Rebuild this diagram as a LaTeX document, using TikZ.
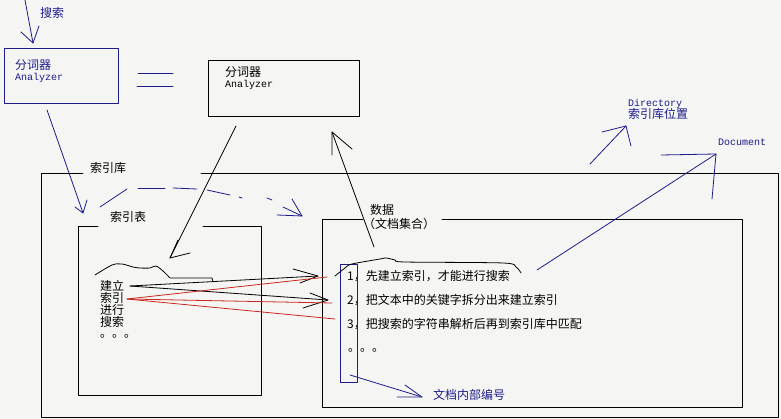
\documentclass[tikz,border=0pt]{standalone}
\usepackage{fontspec}
\setmainfont{Noto Sans CJK SC}
\setmonofont{Liberation Mono}
\definecolor{bgc}{RGB}{245,245,243}
\definecolor{navy}{RGB}{28,28,140}
\definecolor{redl}{RGB}{200,40,30}
\begin{document}
\begin{tikzpicture}[x=1pt,y=-1pt,
  pen/.style={line width=0.8pt,line cap=round,line join=round},
  bl/.style={pen,draw=navy},
  bk/.style={pen,draw=black},
  rd/.style={pen,draw=redl},
  lbl/.style={inner sep=0pt,anchor=west,font=\fontsize{12}{12}\selectfont},
  eng/.style={inner sep=0pt,anchor=west,font=\fontsize{10}{10}\ttfamily},
  boxn/.style={pen,inner sep=0pt,minimum width=#1}]
\fill[bgc] (0,0) rectangle (781,419);
\useasboundingbox (0,0) rectangle (781,419);

% ---------- labels ----------
\node[lbl,text=navy] (search) at (40,13) {搜索};
\node[lbl,text=navy] (fc1) at (15,65) {分词器};
\node[eng,text=navy] (an1t) at (15,78) {Analyzer};
\node[lbl] (fc2) at (225,72.5) {分词器};
\node[eng] (an2t) at (225,85) {Analyzer};
\node[lbl] (liblbl) at (90,168) {索引库};
\node[lbl] (tbllbl) at (110,217) {索引表};
\node[lbl] (datalbl) at (370,210) {数据};
\node[lbl] (doclbl) at (363,223.5) {（文档集合）};
\node[eng,text=navy] (dirlbl) at (628,103.5) {Directory};
\node[lbl,text=navy] (dirpos) at (628,114) {索引库位置};
\node[eng,text=navy] (doctxt) at (718,142.5) {Document};
\node[lbl,align=left] (steps) at (100,304) {建立\\索引\\进行\\搜索};
\node[lbl] (dots1) at (100,336) {。。。};
\node[lbl] (l1) at (347,276) {1，先建立索引，才能进行搜索};
\node[lbl] (l2) at (347,300.5) {2，把文本中的关键字拆分出来建立索引};
\node[lbl] (l3) at (347,324) {3，把搜索的字符串解析后再到索引库中匹配};
\node[lbl] (dots2) at (348,350) {。。。};
\node[lbl,text=navy] (idlbl) at (433,394.5) {文档内部编号};

% ---------- boxes ----------
\draw[bl] (4,48) rectangle (118,103);
\draw[bk] (208,60) rectangle (359,116);
\draw[bk] (83,173) -| (41,417) -| (778,173) -- (201,173);
\draw[bk] (98,226) -| (78,395) -| (261,226) -- (203,226);
\draw[bk] (363,219) -| (322,407) -| (742,219) -- (442,219);
\draw[bl] (340,264) rectangle (357,382);

% ---------- "=" sign ----------
\draw[bl] (138,73) -- (173,73);
\draw[bl] (137,86) -- (173,86);

% ---------- arrows ----------
% search -> analyzer 1
\coordinate (s0) at (25,0); \coordinate (s1) at (33,43);
\draw[bl] (s0) -- (s1);
\draw[bl] (21,32) -- (s1) -- (39,26);
% analyzer 1 -> index table
\coordinate (a0) at (47,110); \coordinate (a1) at (83,213);
\draw[bl] (a0) -- (a1);
\draw[bl] (75,207) -- (a1) -- (87,200);
% dash-dot arrow index table -> data
\coordinate (d1) at (302,216);
\draw[bl] (100,207) -- (127,189);
\draw[bl] (138,188) -- (165,188);
\draw[bl] (173,188) -- (197,189);
\draw[bl] (207,190) -- (230,195);
\draw[bl] (239,197) -- (242,198);
\draw[bl] (267,198) -- (272,200);
\draw[bl] (283,207) -- (d1);
\draw[bl] (277,215) -- (d1) -- (292,199);
% analyzer 2 -> index table
\coordinate (b0) at (236,126); \coordinate (b1) at (170,258);
\draw[bk] (b0) -- (b1);
\draw[bk] (178,240) -- (b1) -- (190,253);
% data -> analyzer 2
\coordinate (c0) at (374,247); \coordinate (c1) at (332,132);
\draw[bk] (c0) -- (c1);
\draw[bk] (332,155) -- (c1) -- (352,149);
% directory
\coordinate (r0) at (590,164); \coordinate (r1) at (626,126);
\draw[bl] (r0) -- (r1);
\draw[bl] (602,132) -- (r1) -- (631,146);
% document
\coordinate (m0) at (537,270); \coordinate (m1) at (716,154);
\draw[bl] (m0) -- (m1);
\draw[bl] (661,155) -- (m1) -- (712,199);
% internal doc id
\coordinate (i0) at (350,375); \coordinate (i1) at (422,397);
\draw[bl] (i0) -- (i1);
\draw[bl] (405,385) -- (i1) -- (397,397);

% ---------- wavy braces ----------
\draw[bk] plot[smooth,tension=0.5] coordinates {(95,275) (112,265) (122,264) (133,267) (140,268) (150,268) (156,266) (163,271) (170,278)} -- (212,278) -- (213,282);
\draw[bk] plot[smooth,tension=0.5] coordinates {(335,276) (345,268) (352,264) (380,259) (386,258) (395,260) (405,262) (503,263) (516,267) (521,273)};

% ---------- links from steps to list ----------
\coordinate (k0) at (130,286);
\coordinate (k1) at (318,276);
\coordinate (k2) at (328,300);
\draw[bk] (k0) -- (k1);
\draw[bk] (293,269) -- (k1) -- (300,283);
\draw[bk] (k0) -- (k2);
\draw[bk] (310,293) -- (k2) -- (303,308);
\coordinate (q0) at (127,299);
\draw[rd] (q0) -- (327,277);
\draw[rd] (q0) -- (332,303);
\draw[rd] (q0) -- (335,319);
\end{tikzpicture}
\end{document}
